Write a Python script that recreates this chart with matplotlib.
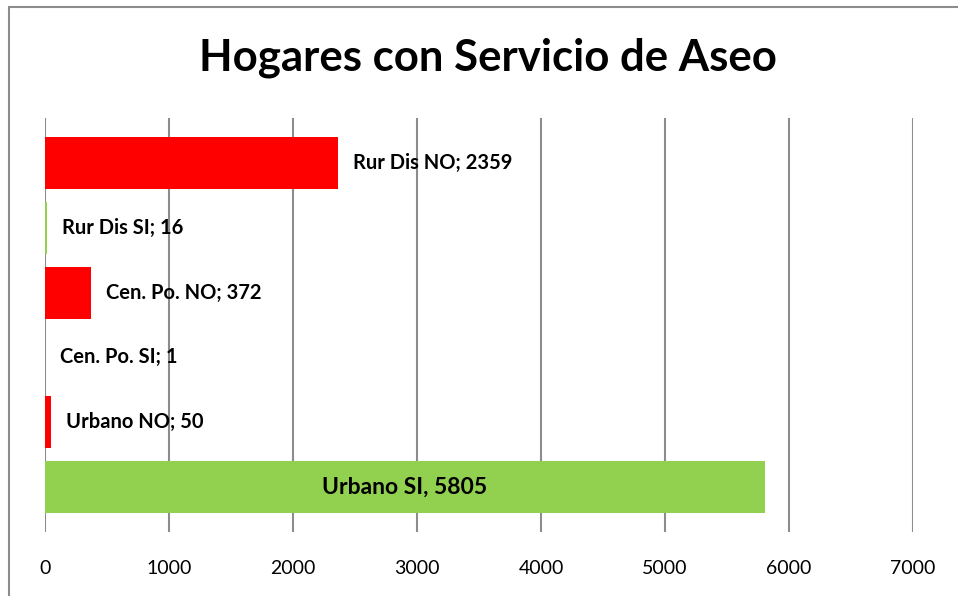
#!/usr/bin/env python3
import matplotlib
matplotlib.use('Agg')
import matplotlib.pyplot as plt
from matplotlib.patches import Rectangle

# data (bottom to top)
categorias = ['Urbano SI', 'Urbano NO', 'Cen. Po. SI', 'Cen. Po. NO', 'Rur Dis SI', 'Rur Dis NO']
valores = [5805, 50, 1, 372, 16, 2359]
colores = ['#92D050', '#FF0000', '#92D050', '#FF0000', '#92D050', '#FF0000']
ticks = [0, 1000, 2000, 3000, 4000, 5000, 6000, 7000]

plt.rcParams['font.family'] = ['Lato', 'DejaVu Sans']

fig = plt.figure(figsize=(9.58, 5.96), dpi=100)
ax = fig.add_axes([45/958, 1-532/596, 868/958, 414/596])

pos = range(len(categorias))
ax.barh(pos, valores, height=0.8, color=colores, zorder=3)

for i, (c, v) in enumerate(zip(categorias, valores)):
    if c == 'Urbano SI':
        ax.text(v/2, i, c + ', ' + str(v), ha='center', va='center',
                fontsize=16.5, fontweight='bold', zorder=4)
    else:
        ax.annotate(c + '; ' + str(v), (v, i), xytext=(11, 0),
                    textcoords='offset points', ha='left', va='center',
                    fontsize=14.5, fontweight='bold', zorder=4)

ax.set_xlim(0, 7000)
ax.set_ylim(-0.7, 5.7)
ax.set_xticks(ticks)
ax.set_yticks([])
ax.tick_params(axis='x', length=0, pad=20, labelsize=14)
ax.grid(axis='x', color='#8c8c8c', linewidth=1.5, zorder=0)
for s in ax.spines.values():
    s.set_visible(False)

fig.text(488/958, 1-58/596, 'Hogares con Servicio de Aseo', ha='center', va='center',
         fontsize=31.5, fontweight='bold')

# chart border (cut off at right and bottom)
fig.patches.append(Rectangle((9/958, -0.1), 1.2, 1-7/596+0.1, transform=fig.transFigure,
                             fill=False, edgecolor='#8c8c8c', linewidth=1.5))

fig.savefig('out.png', dpi=100)
